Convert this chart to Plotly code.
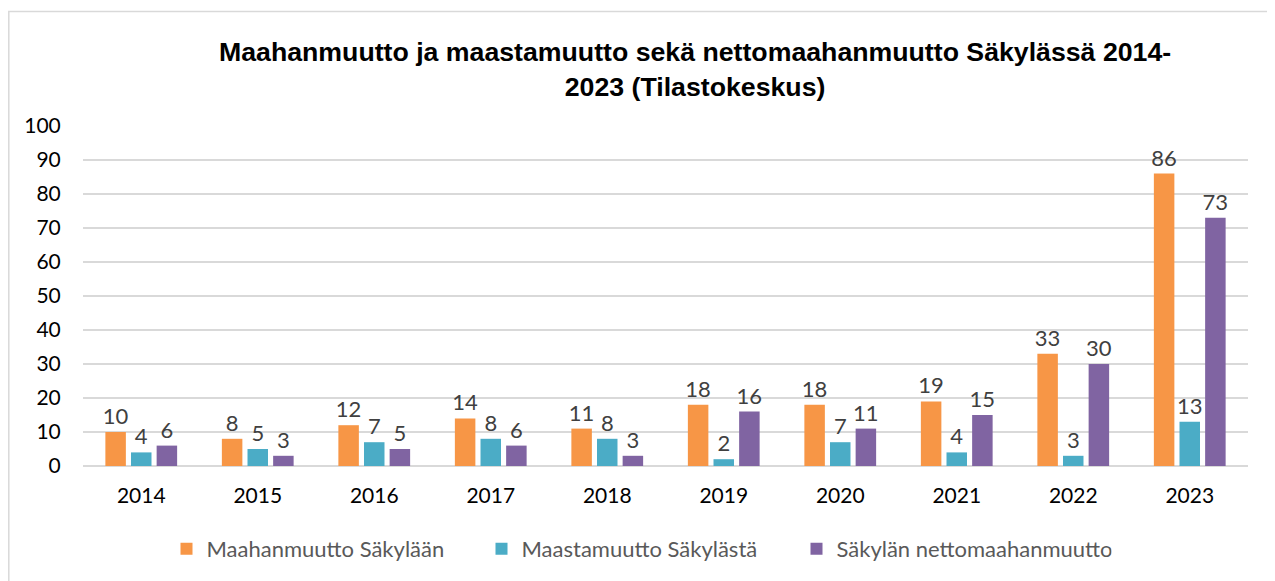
import plotly.graph_objects as go

years = ["2014", "2015", "2016", "2017", "2018", "2019", "2020", "2021", "2022", "2023"]
maahanmuutto = [10, 8, 12, 14, 11, 18, 18, 19, 33, 86]
maastamuutto = [4, 5, 7, 8, 8, 2, 7, 4, 3, 13]
netto = [6, 3, 5, 6, 3, 16, 11, 15, 30, 73]

series_names = ["Maahanmuutto Säkylään", "Maastamuutto Säkylästä", "Säkylän nettomaahanmuutto"]
colors = ["#F79646", "#4BACC6", "#8064A2"]
title_text = "Maahanmuutto ja maastamuutto sekä nettomaahanmuutto Säkylässä 2014-<br>2023 (Tilastokeskus)"

OFF = 8  # page body margin
W, H = 1275, 581
# target plot area in page pixels
PL, PR, PT, PB = 83, 1248, 126, 466
L, T = PL - OFF, PT - OFF
R = W - (PR - OFF)
B = H - (PB - OFF)
pw, ph = W - L - R, H - T - B

def px_x(p):  # page px -> paper
    return (p - OFF - L) / pw

def px_y(p):
    return (H - B - (p - OFF)) / ph

FONT = "Lato, 'Open Sans', sans-serif"

fig = go.Figure()
for name, vals, c in zip(series_names, [maahanmuutto, maastamuutto, netto], colors):
    fig.add_trace(go.Bar(
        x=years, y=vals, name=name, marker_color=c, marker_line_width=0,
        text=[str(v) for v in vals], textposition="outside",
        textfont=dict(family=FONT, size=22, color="#404040"),
        constraintext="none", cliponaxis=False,
    ))

fig.update_layout(
    width=W, height=H,
    margin=dict(l=L, r=R, t=T, b=B, autoexpand=False),
    paper_bgcolor="white", plot_bgcolor="white",
    barmode="group", bargap=0.34, bargroupgap=0.2,
    showlegend=True,
    legend=dict(orientation="h", x=px_x(639), y=px_y(549), xanchor="center", yanchor="middle",
                font=dict(family=FONT, size=22, color="#595959"), itemwidth=30,
                entrywidth=270, traceorder="normal"),
    xaxis=dict(showgrid=False, showline=False, ticks="outside", ticklen=11, automargin=False,
               tickcolor="rgba(0,0,0,0)", tickfont=dict(family=FONT, size=21, color="#000000")),
    yaxis=dict(range=[0, 100], dtick=10, showgrid=True, gridcolor="#D9D9D9", gridwidth=1.5,
               zeroline=True, zerolinecolor="#D9D9D9", zerolinewidth=1.5, automargin=False,
               ticks="outside", ticklen=17, tickcolor="rgba(0,0,0,0)",
               tickfont=dict(family=FONT, size=21, color="#000000")),
    annotations=[dict(text="<b>" + title_text + "</b>", xref="paper", yref="paper",
                      x=px_x(695), y=px_y(70), xanchor="center", yanchor="middle",
                      showarrow=False, align="center",
                      font=dict(family="'Liberation Sans', Arial, sans-serif", size=26.7, color="#000000"))],
    shapes=[dict(type="rect", xref="paper", yref="paper",
                 x0=px_x(8.8), x1=px_x(1300), y0=px_y(620), y1=px_y(11.5),
                 line=dict(color="#D9D9D9", width=1.5), fillcolor="rgba(0,0,0,0)", layer="below")],
)

fig.write_html("out.html")
